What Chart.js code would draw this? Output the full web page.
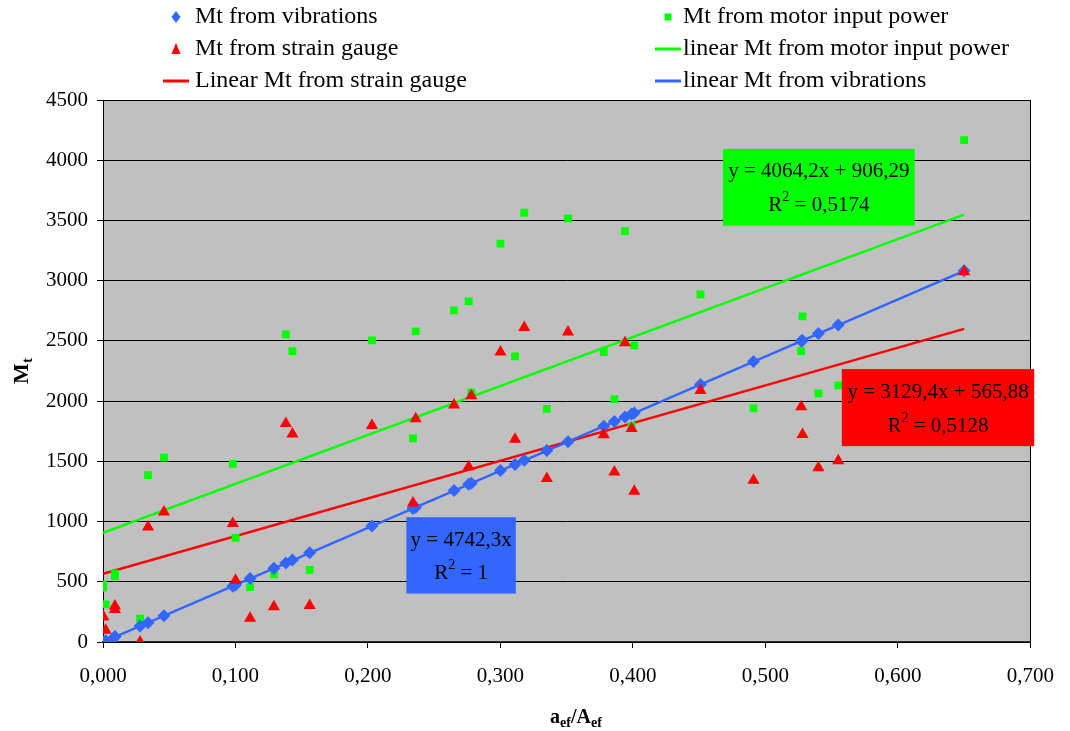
<!DOCTYPE html>
<html>
<head>
<meta charset="utf-8">
<script src="https://cdn.jsdelivr.net/npm/chart.js@4.4.1/dist/chart.umd.min.js"></script>
<style>
  html, body { margin: 0; padding: 0; background: #fff; }
  #wrap { width: 1070px; height: 731px; }
</style>
</head>
<body>
<div id="wrap"><canvas id="mtChart" width="1070" height="731"></canvas></div>
<script>
// a_ef/A_ef for every measurement
const ratio = [0.000, 0.000, 0.002, 0.009, 0.009, 0.028, 0.034, 0.046, 0.098, 0.100, 0.111, 0.129, 0.138, 0.143, 0.156,
  0.203, 0.234, 0.236, 0.265, 0.276, 0.278, 0.300, 0.311, 0.318, 0.335, 0.351, 0.378, 0.386, 0.394, 0.399, 0.401,
  0.451, 0.491, 0.527, 0.528, 0.540, 0.555, 0.650];
const mtVibration = [0, 0, 10, 43, 43, 133, 159, 218, 463, 474, 527, 613, 656, 680, 742,
  964, 1108, 1118, 1258, 1310, 1318, 1424, 1474, 1508, 1589, 1663, 1791, 1830, 1868, 1893, 1902,
  2138, 2328, 2500, 2504, 2561, 2632, 3082];
const mtMotor = [479, 452, 313, 568, 546, 194, 1385, 1530, 1479, 864, 455, 562, 2554, 2415, 598,
  2504, 1690, 2579, 2753, 2828, 2072, 3307, 2371, 3564, 1936, 3518, 2407, 2016, 3412, 1795, 2462,
  2886, 1939, 2415, 2703, 2064, 2130, 4166];
const mtStrain = [208, 215, 97, 299, 269, 0, 955, 1080, 983, 513, 197, 292, 1814, 1726, 304,
  1798, 1155, 1853, 1967, 1454, 2044, 2407, 1684, 2612, 1357, 2573, 1720, 1412, 2484, 1772, 1252,
  2088, 1343, 1953, 1723, 1446, 1504, 3074];

// trend lines (end points)
const trendX = [0, 0.65];
const trendMotor = [906, 3548];
const trendStrain = [566, 2600];
const trendVibration = [0, 3082];

const xTicks = [0, 0.1, 0.2, 0.3, 0.4, 0.5, 0.6, 0.7];

const BLUE = '#3366ff', GREEN = '#00ff00', RED = '#ff0000';
const SERIF = '"Liberation Serif", "Times New Roman", serif';

const pts = (xs, ys) => xs.map((x, i) => ({x: x, y: ys[i]}));

// equation boxes, in data coords
const eqBoxes = [
  {x0: 0.468, x1: 0.6127, y0: 4094, y1: 3456, fill: GREEN, eq: 'y = 4064,2x + 906,29', r2: '0,5174'},
  {x0: 0.5577, x1: 0.7029, y0: 2266, y1: 1626, fill: RED, eq: 'y = 3129,4x + 565,88', r2: '0,5128'},
  {x0: 0.229, x1: 0.3116, y0: 1036, y1: 402, fill: BLUE, eq: 'y = 4742,3x', r2: '1'}
];

function drawR2(ctx, cx, cy, val, size) {
  const big = size + 'px ' + SERIF, small = Math.round(size * 0.65) + 'px ' + SERIF;
  ctx.font = big;
  const wR = ctx.measureText('R').width;
  const rest = ' = ' + val;
  const wRest = ctx.measureText(rest).width;
  ctx.font = small;
  const w2 = ctx.measureText('2').width;
  let x = cx - (wR + w2 + wRest) / 2;
  ctx.textAlign = 'left';
  ctx.font = big;
  ctx.fillText('R', x, cy);
  ctx.font = small;
  ctx.fillText('2', x + wR, cy - size * 0.38);
  ctx.font = big;
  ctx.fillText(rest, x + wR + w2, cy);
}

const plotBackground = {
  id: 'plotBackground',
  beforeDraw(chart) {
    const {ctx, chartArea: {left, top, width, height}} = chart;
    ctx.save();
    ctx.fillStyle = '#c0c0c0';
    ctx.fillRect(left, top, width, height);
    ctx.restore();
  },
  beforeDatasetsDraw(chart) {
    const {ctx, chartArea: {left, top, width, height}} = chart;
    ctx.save();
    ctx.strokeStyle = '#000';
    ctx.lineWidth = 1;
    ctx.strokeRect(Math.round(left) + 0.5, Math.round(top) + 0.5, Math.round(width), Math.round(height));
    ctx.restore();
  }
};

const equations = {
  id: 'equations',
  afterDatasetsDraw(chart) {
    const {ctx, scales: {x, y}} = chart;
    ctx.save();
    eqBoxes.forEach(b => {
      const l = x.getPixelForValue(b.x0), r = x.getPixelForValue(b.x1);
      const t = y.getPixelForValue(b.y0), btm = y.getPixelForValue(b.y1);
      ctx.fillStyle = b.fill;
      ctx.fillRect(l, t, r - l, btm - t);
      const cx = (l + r) / 2, h = btm - t;
      ctx.fillStyle = '#000';
      ctx.textBaseline = 'middle';
      ctx.textAlign = 'center';
      ctx.font = '21px ' + SERIF;
      ctx.fillText(b.eq, cx, t + h * 0.30);
      drawR2(ctx, cx, t + h * 0.74, b.r2, 21);
    });
    ctx.restore();
  }
};

const legendItems = [
  {col: 0, row: 0, kind: 'diamond', color: BLUE, text: 'Mt from vibrations'},
  {col: 0, row: 1, kind: 'triangle', color: RED, text: 'Mt from strain gauge'},
  {col: 0, row: 2, kind: 'line', color: RED, text: 'Linear Mt from strain gauge'},
  {col: 1, row: 0, kind: 'square', color: GREEN, text: 'Mt from motor input power'},
  {col: 1, row: 1, kind: 'line', color: GREEN, text: 'linear Mt from motor input power'},
  {col: 1, row: 2, kind: 'line', color: BLUE, text: 'linear Mt from vibrations'}
];

const sideTexts = {
  id: 'sideTexts',
  afterDraw(chart) {
    const {ctx} = chart;
    ctx.save();
    // legend
    const markX = [176, 668], textX = [195, 683], rowY = [17, 49, 81];
    legendItems.forEach(it => {
      const mx = markX[it.col], my = rowY[it.row];
      ctx.fillStyle = it.color;
      ctx.strokeStyle = it.color;
      if (it.kind === 'diamond') {
        ctx.beginPath();
        ctx.moveTo(mx, my - 6); ctx.lineTo(mx + 4.5, my); ctx.lineTo(mx, my + 6); ctx.lineTo(mx - 4.5, my);
        ctx.closePath(); ctx.fill();
      } else if (it.kind === 'triangle') {
        ctx.beginPath();
        ctx.moveTo(mx, my - 6); ctx.lineTo(mx + 4.5, my + 5); ctx.lineTo(mx - 4.5, my + 5);
        ctx.closePath(); ctx.fill();
      } else if (it.kind === 'square') {
        ctx.fillRect(mx - 3.5, my - 3.5, 7, 7);
      } else {
        ctx.lineWidth = 3;
        ctx.beginPath();
        ctx.moveTo(mx - 13, my); ctx.lineTo(mx + 13, my);
        ctx.stroke();
      }
      ctx.fillStyle = '#000';
      ctx.font = '24px ' + SERIF;
      ctx.textAlign = 'left';
      ctx.textBaseline = 'middle';
      ctx.fillText(it.text, textX[it.col], my);
    });

    // y title: M with subscript t
    ctx.translate(21, 371);
    ctx.rotate(-Math.PI / 2);
    ctx.font = 'bold 22px ' + SERIF;
    const wM = ctx.measureText('M').width;
    ctx.font = 'bold 15px ' + SERIF;
    const wt = ctx.measureText('t').width;
    let sx = -(wM + wt) / 2;
    ctx.textAlign = 'left';
    ctx.textBaseline = 'alphabetic';
    ctx.font = 'bold 22px ' + SERIF;
    ctx.fillText('M', sx, 7);
    ctx.font = 'bold 15px ' + SERIF;
    ctx.fillText('t', sx + wM, 11);
    ctx.setTransform(1, 0, 0, 1, 0, 0);

    // x title: a_ef / A_ef
    const parts = [['a', false], ['ef', true], ['/A', false], ['ef', true]];
    let total = 0;
    parts.forEach(p => {
      ctx.font = p[1] ? 'bold 14px ' + SERIF : 'bold 20px ' + SERIF;
      total += ctx.measureText(p[0]).width;
    });
    let px = 576 - total / 2;
    parts.forEach(p => {
      ctx.font = p[1] ? 'bold 14px ' + SERIF : 'bold 20px ' + SERIF;
      ctx.fillText(p[0], px, p[1] ? 727 : 723);
      px += ctx.measureText(p[0]).width;
    });
    ctx.restore();
  }
};

new Chart(document.getElementById('mtChart').getContext('2d'), {
  type: 'scatter',
  data: {
    datasets: [
      {
        label: 'Mt from strain gauge',
        data: pts(ratio, mtStrain),
        pointStyle: 'triangle',
        pointRadius: 7,
        backgroundColor: RED,
        borderColor: RED,
        borderWidth: 0,
        order: 0
      },
      {
        label: 'Mt from vibrations',
        data: pts(ratio, mtVibration),
        pointStyle: 'rectRot',
        pointRadius: 6.5,
        backgroundColor: BLUE,
        borderColor: BLUE,
        borderWidth: 0,
        order: 1
      },
      {
        label: 'Mt from motor input power',
        data: pts(ratio, mtMotor),
        pointStyle: 'rect',
        pointRadius: 5.5,
        backgroundColor: GREEN,
        borderColor: GREEN,
        borderWidth: 0,
        order: 2
      },
      {
        label: 'linear Mt from vibrations',
        type: 'line',
        data: pts(trendX, trendVibration),
        borderColor: BLUE,
        borderWidth: 2.5,
        pointRadius: 0,
        fill: false,
        order: 3
      },
      {
        label: 'Linear Mt from strain gauge',
        type: 'line',
        data: pts(trendX, trendStrain),
        borderColor: RED,
        borderWidth: 2.5,
        pointRadius: 0,
        fill: false,
        order: 4
      },
      {
        label: 'linear Mt from motor input power',
        type: 'line',
        data: pts(trendX, trendMotor),
        borderColor: GREEN,
        borderWidth: 2.5,
        pointRadius: 0,
        fill: false,
        order: 5
      }
    ]
  },
  options: {
    responsive: false,
    animation: false,
    layout: {padding: {top: 100, right: 37, left: 0, bottom: 0}},
    plugins: {
      legend: {display: false},
      tooltip: {enabled: false}
    },
    scales: {
      x: {
        type: 'linear',
        min: 0,
        max: 0.7,
        afterFit(scale) { scale.height = 89; },
        afterBuildTicks(scale) { scale.ticks = xTicks.map(v => ({value: v})); },
        border: {display: true, color: '#333', width: 2},
        grid: {drawOnChartArea: false, drawTicks: true, tickLength: 6, tickColor: '#000'},
        ticks: {
          color: '#000',
          padding: 16,
          maxRotation: 0,
          font: {family: SERIF, size: 21},
          callback: v => v.toFixed(3).replace('.', ',')
        }
      },
      y: {
        min: 0,
        max: 4500,
        afterFit(scale) { scale.width = 103; },
        border: {display: true, color: '#000', width: 1},
        grid: {color: '#000', lineWidth: 1, drawTicks: true, tickLength: 6, tickColor: '#000'},
        ticks: {
          stepSize: 500,
          color: '#000',
          padding: 9,
          font: {family: SERIF, size: 21},
          callback: v => String(v)
        }
      }
    }
  },
  plugins: [plotBackground, equations, sideTexts]
});
</script>
</body>
</html>
